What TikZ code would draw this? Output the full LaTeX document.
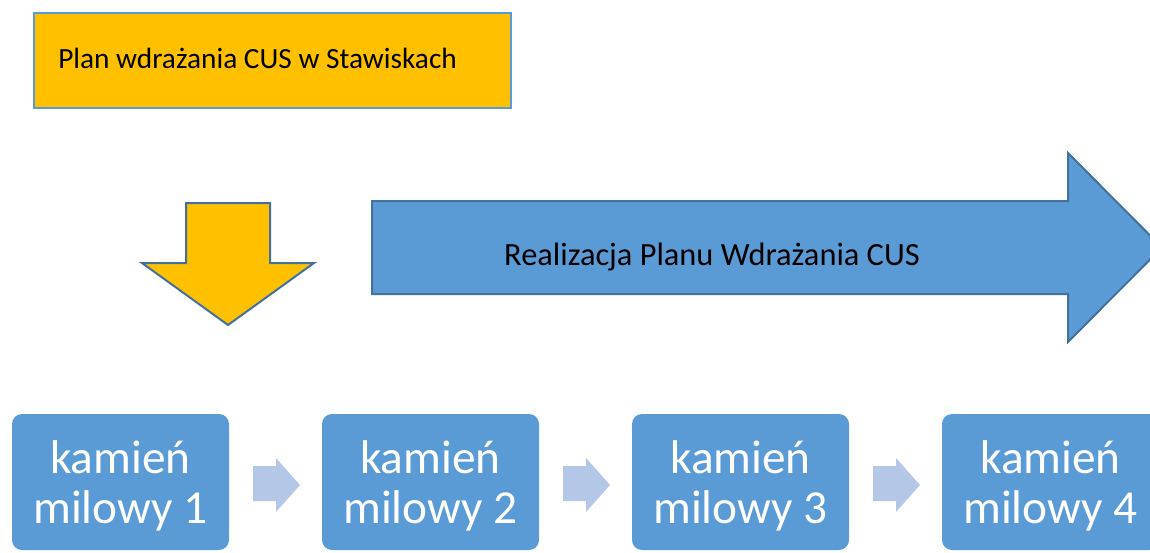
\documentclass[tikz,border=0pt]{standalone}
\usepackage{fontspec}
\setmainfont{Carlito}
\definecolor{yel}{HTML}{FFC000}
\definecolor{blu}{HTML}{5B9BD5}
\definecolor{dblu}{HTML}{41719C}
\definecolor{lblu}{HTML}{B4C7E7}
\tikzset{
  planbox/.style={draw=blu, line width=1.5pt, fill=yel},
  bigarrow/.style={draw=dblu, line width=1.5pt, line join=miter},
  milebox/.style={fill=blu, rounded corners=7.5pt, minimum width=162.75pt, minimum height=102pt, inner sep=0pt},
  miletext/.style={inner sep=0pt, text=white, align=center, font=\fontsize{35.5}{37.5}\selectfont},
  smallarrow/.style={fill=lblu},
  lbl/.style={inner sep=0pt, font=\fontsize{22}{26}\selectfont}
}
\begin{document}
\begin{tikzpicture}[x=0.75pt,y=-0.75pt]
\useasboundingbox (0,0) rectangle (1150,553);
\clip (0,0) rectangle (1150,553);
% plan box
\draw[planbox] (34,13) rectangle (511,108);
\node[lbl, anchor=base west] (plan) at (58,68) {Plan wdrażania CUS w Stawiskach};
% down arrow
\draw[bigarrow, fill=yel] (186,203) -- (270,203) -- (270,263) -- (314,263) -- (228,325) -- (142,263) -- (186,263) -- cycle;
% right arrow
\draw[bigarrow, fill=blu] (372,201) -- (1068,201) -- (1068,153) -- (1162,247.5) -- (1068,342) -- (1068,294) -- (372,294) -- cycle;
\node[lbl, anchor=base, font=\fontsize{24.3}{28}\selectfont] (real) at (712,265) {Realizacja Planu Wdrażania CUS};
% milestones
\foreach \i/\x in {1/120.5,2/430.5,3/740.5,4/1050.5}{
  \node[milebox] (m\i) at (\x,482) {};
  \node[miletext] (t\i) at ([yshift=-3pt]m\i.center) {kamień\\milowy \i};
}
% small arrows
\foreach \dx in {0,310,620}{
  \fill[smallarrow] (253+\dx,466) -- (276+\dx,466) -- (276+\dx,458) -- (300+\dx,485) -- (276+\dx,512) -- (276+\dx,501) -- (253+\dx,501) -- cycle;
}
\end{tikzpicture}
\end{document}
